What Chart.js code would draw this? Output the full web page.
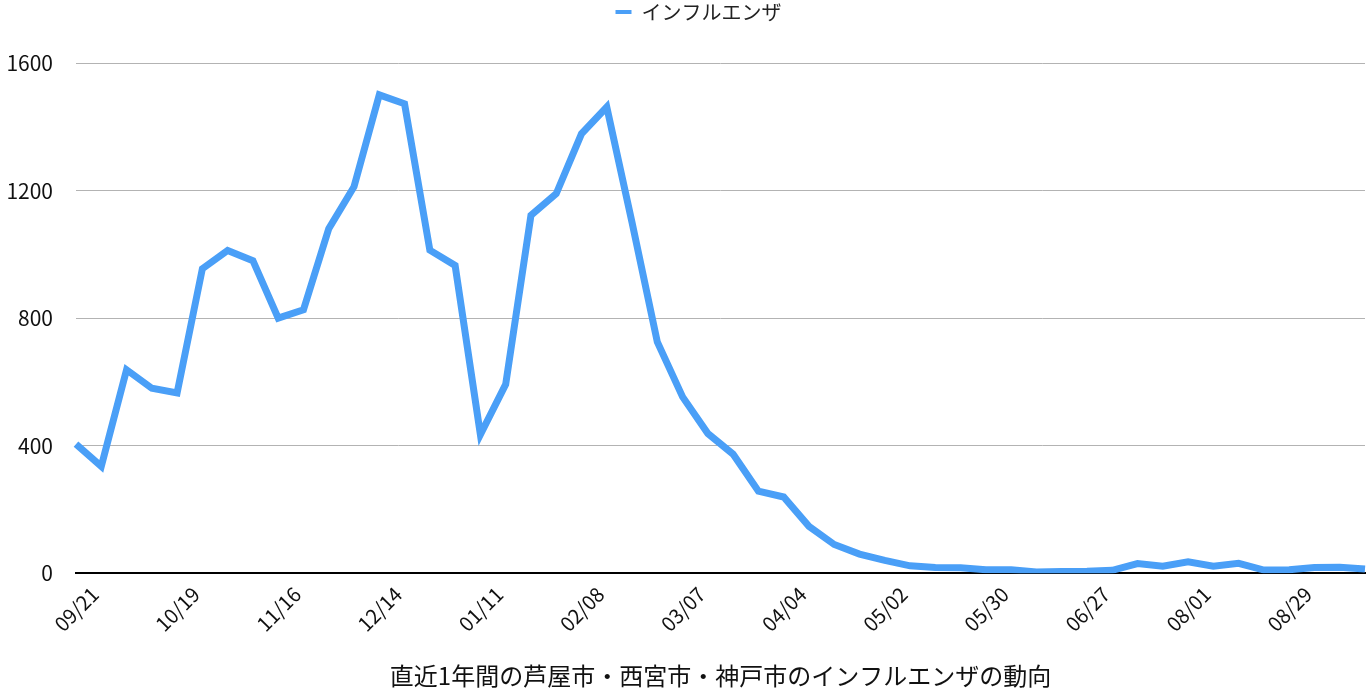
<!DOCTYPE html>
<html lang="ja">
<head>
<meta charset="utf-8">
<title>インフルエンザの動向</title>
<script src="https://cdn.jsdelivr.net/npm/chart.js@4/dist/chart.umd.min.js"></script>
<style>
  html, body { margin: 0; padding: 0; background: #fff; }
  #wrap { width: 1370px; height: 698px; position: relative; }
</style>
</head>
<body>
<div id="wrap"><canvas id="chart"></canvas></div>
<script>
// 週ごとの日付ラベル（4週ごとに表示）
const weeks = [
  '09/21', '09/28', '10/05', '10/12', '10/19', '10/26', '11/02', '11/09',
  '11/16', '11/23', '11/30', '12/07', '12/14', '12/21', '12/28', '01/04',
  '01/11', '01/18', '01/25', '02/01', '02/08', '02/15', '02/22', '02/29',
  '03/07', '03/14', '03/21', '03/28', '04/04', '04/11', '04/18', '04/25',
  '05/02', '05/09', '05/16', '05/23', '05/30', '06/06', '06/13', '06/20',
  '06/27', '07/04', '07/11', '07/18', '08/01', '08/08', '08/15', '08/22',
  '08/29', '09/05', '09/12', '09/19'
];

// 報告数
const influenza = [
  405, 335, 638, 580, 565, 955, 1012, 980,
  800, 826, 1080, 1212, 1500, 1472, 1013, 965,
  435, 592, 1122, 1190, 1378, 1462, 1100, 725,
  553, 438, 373, 257, 239, 147, 90, 60,
  40, 23, 18, 17, 11, 11, 4, 5,
  6, 9, 30, 22, 36, 22, 31, 10,
  11, 18, 19, 13
];

const yTicks = [0, 400, 800, 1200, 1600];

const seriesName = 'インフルエンザ';
const chartTitle = '直近1年間の芦屋市・西宮市・神戸市のインフルエンザの動向';

const LINE = '#4a9ff7';
const FONT = "'Noto Sans CJK JP', 'Noto Sans', sans-serif";

Chart.defaults.font.family = FONT;
Chart.defaults.color = '#111';

// 凡例の下にグラフ上端までの余白を確保し、凡例を少し右へ寄せる
const legendSpace = {
  id: 'legendSpace',
  beforeInit(chart) {
    const fit = chart.legend.fit;
    chart.legend.fit = function () {
      fit.call(this);
      this.height = 63;
    };
  },
  afterLayout(chart) {
    chart.legend.left += 16;
    chart.legend.right += 16;
  },
};

new Chart(document.getElementById('chart'), {
  type: 'line',
  data: {
    labels: weeks,
    datasets: [{
      label: seriesName,
      data: influenza,
      borderColor: LINE,
      backgroundColor: LINE,
      borderWidth: 7,
      pointRadius: 0,
      tension: 0,
      fill: false,
    }],
  },
  options: {
    responsive: true,
    maintainAspectRatio: false,
    animation: false,
    layout: { padding: { top: 0, right: 5, bottom: 0, left: 0 } },
    plugins: {
      legend: {
        display: true,
        position: 'top',
        labels: {
          boxWidth: 16,
          boxHeight: 4,
          padding: 2,
          font: { size: 20 },
          color: '#222',
          generateLabels(chart) {
            const items = Chart.defaults.plugins.legend.labels.generateLabels(chart);
            items.forEach(it => { it.lineWidth = 0; it.fillStyle = LINE; });
            return items;
          },
        },
      },
      title: {
        display: true,
        position: 'bottom',
        fullSize: false,
        text: chartTitle,
        color: '#111',
        font: { size: 24, weight: 'normal' },
        padding: { top: 18, bottom: 8 },
      },
      tooltip: { enabled: false },
    },
    scales: {
      x: {
        grid: { display: false },
        border: { display: true, color: '#000', width: 2 },
        ticks: {
          autoSkip: false,
          maxRotation: 45,
          minRotation: 45,
          labelOffset: 19,
          padding: 1,
          font: { size: 20 },
          color: '#111',
          callback: (v, i) => (i % 4 === 0 ? weeks[i] : ''),
        },
        afterFit: s => {
          s.height = 70;
          s.paddingLeft = 0;
          s.paddingRight = 0;
        },
      },
      y: {
        min: 0,
        max: 1600,
        afterBuildTicks: s => { s.ticks = yTicks.map(v => ({ value: v })); },
        grid: { color: '#b3b3b3', lineWidth: 1, drawTicks: false },
        border: { display: false },
        ticks: {
          padding: 23,
          font: { size: 21 },
          color: '#111',
          callback: v => String(v),
        },
        afterFit: s => { s.width = 76; },
      },
    },
  },
  plugins: [legendSpace],
});
</script>
</body>
</html>
